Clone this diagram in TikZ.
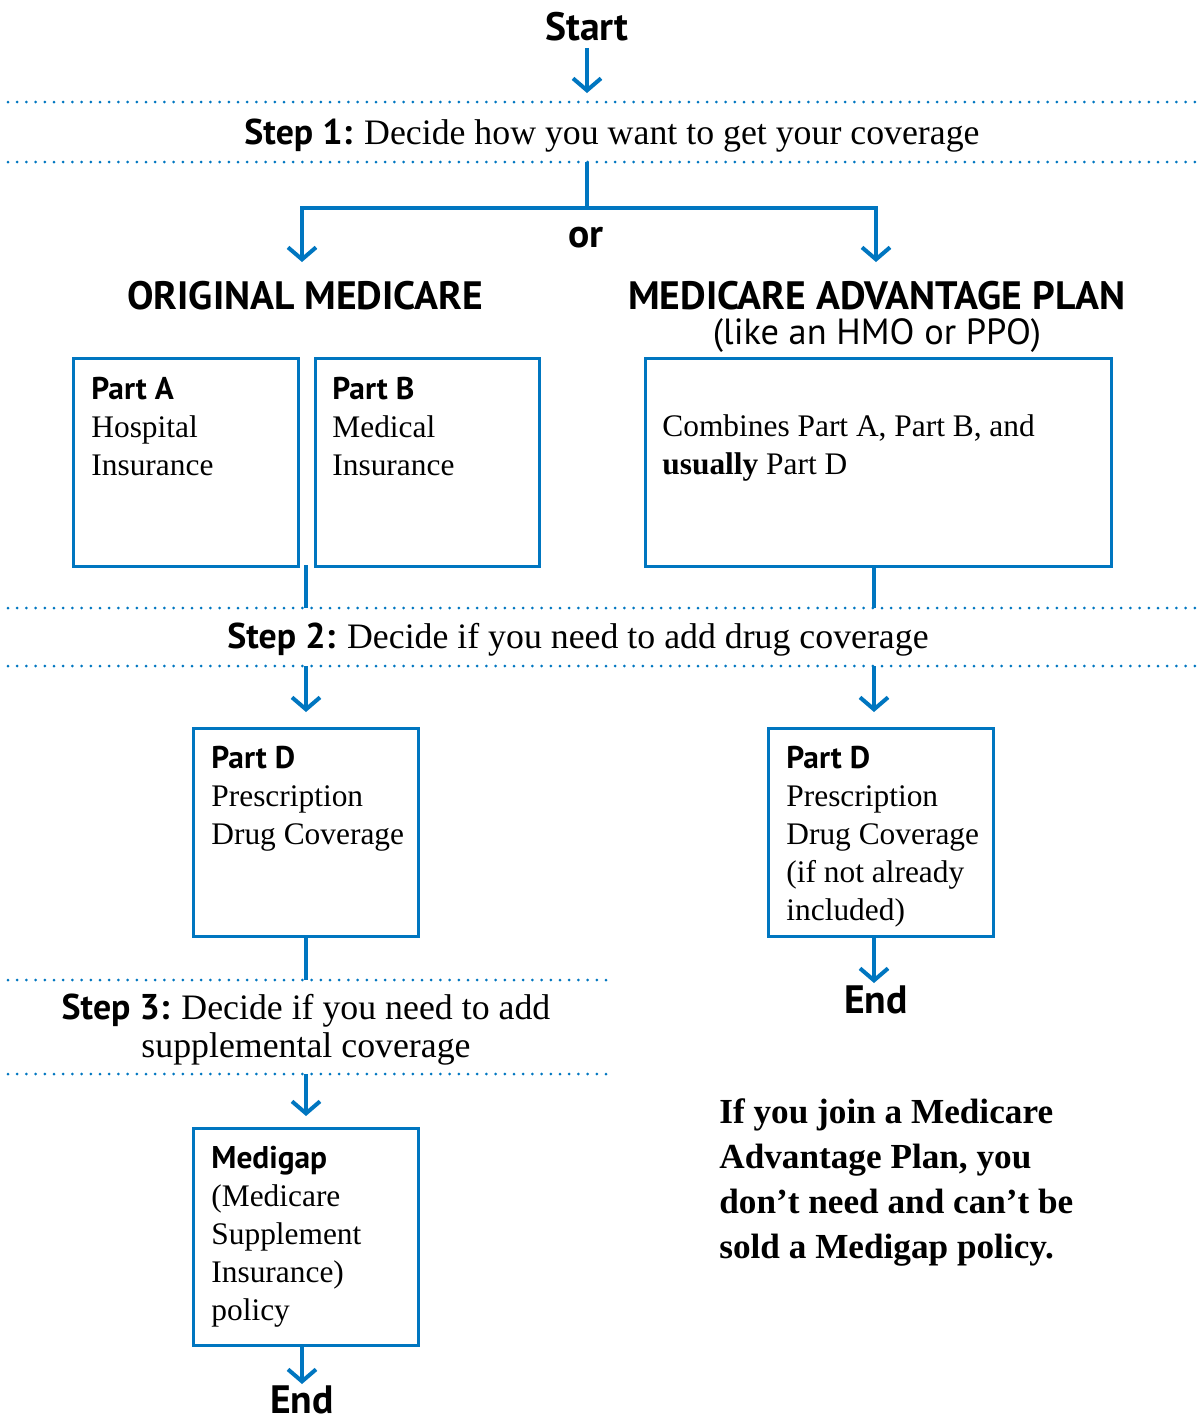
\documentclass[tikz,border=0pt]{standalone}
\usepackage{fontspec}
\setmainfont{Liberation Serif}
\setsansfont{PT Sans}
\usetikzlibrary{arrows.meta, positioning}
\definecolor{cmsblue}{RGB}{0,118,192}
\newcommand{\hd}[1]{{\sffamily\bfseries #1}}

\tikzset{
  flow/.style={cmsblue, line width=2pt},
  flowarrow/.style={flow, -{Straight Barb[length=6pt, width=14pt, line width=2pt]}},
  stepline/.style={cmsblue, line width=1.5pt, line cap=round, dash pattern=on 0pt off 4.6pt},
  partbox/.style={draw=cmsblue, line width=1.5pt, inner sep=0pt, anchor=north west},
  boxtext/.style={anchor=north west, align=left, inner sep=0pt, font=\fontsize{15.7}{19}\selectfont},
  steptext/.style={align=center, inner sep=0pt, font=\fontsize{17.9}{19}\selectfont},
  heading/.style={inner sep=0pt, font=\sffamily\bfseries\fontsize{19.8}{20}\selectfont},
}

\begin{document}
\begin{tikzpicture}[x=0.5pt, y=-0.5pt]
	\useasboundingbox (0,0) rectangle (1204,1426);
	% step 1
	\node[heading] (start) at (587,27) {Start};
	\coordinate (startend) at (587,93);
	\draw[flowarrow] ([yshift=-3pt]start.south) -- (startend);
	\draw[stepline] (8,102) -- (1200,102);
	\node[steptext] (step1) at (612,136) {\hd{Step 1:} Decide how you want to get your coverage};
	\draw[stepline] (8,162) -- (1200,162);
	\coordinate (s1out) at (587,162);
	\coordinate (fork) at (587,208);
	\coordinate (origin) at (302,262);
	\coordinate (advin) at (876,262);
	\draw[flow] (s1out) -- (fork);
	\draw[flowarrow] (fork) -| (origin);
	\draw[flowarrow] (fork) -| (advin);
	\node[heading] (or) at (586,238) {or};
	% the two ways
	\node[heading] (orig) at (305,296) {ORIGINAL MEDICARE};
	\node[heading] (adv) at (877,296) {MEDICARE ADVANTAGE PLAN};
	\node[inner sep=0pt, font=\sffamily\fontsize{18.2}{19}\selectfont] (like) at (877,336) {(like an HMO or PPO)};
	\node[partbox, minimum width=112.5pt, minimum height=104pt] (partA) at (72,357) {};
	\node[partbox, minimum width=112pt, minimum height=104pt] (partB) at (314,357) {};
	\node[partbox, minimum width=233pt, minimum height=104pt] (advbox) at (644,357) {};
	\node[boxtext] (partAtext) at (91,377) {\hd{Part A}\\Hospital\\Insurance};
	\node[boxtext] (partBtext) at (332,377) {\hd{Part B}\\Medical\\Insurance};
	\node[boxtext] (advtext) at (662,414) {Combines Part A, Part B, and\\\textbf{usually} Part D};
	% step 2
	\coordinate (abjoin) at (306,565);
	\coordinate (advout) at (874,565);
	\coordinate (s2left) at (306,608);
	\coordinate (s2right) at (874,608);
	\draw[flow] (abjoin) -- (s2left);
	\draw[flow] (advout) -- (s2right);
	\draw[stepline] (8,608) -- (1200,608);
	\node[steptext] (step2) at (578,640) {\hd{Step 2:} Decide if you need to add drug coverage};
	\draw[stepline] (8,666) -- (1200,666);
	\coordinate (s2lout) at (306,666);
	\coordinate (s2rout) at (874,666);
	\coordinate (dlin) at (306,712);
	\coordinate (drin) at (874,712);
	\draw[flowarrow] (s2lout) -- (dlin);
	\draw[flowarrow] (s2rout) -- (drin);
	\node[partbox, minimum width=112.5pt, minimum height=104pt] (partDl) at (192,727) {};
	\node[partbox, minimum width=112.5pt, minimum height=104pt] (partDr) at (767,727) {};
	\node[boxtext] (partDltext) at (211,746) {\hd{Part D}\\Prescription\\Drug Coverage};
	\node[boxtext] (partDrtext) at (786,746) {\hd{Part D}\\Prescription\\Drug Coverage\\(if not already\\included)};
	% right side ends
	\node[heading] (endr) at (876,1000) {End};
	\coordinate (drout) at (874,935);
	\coordinate (drend) at (874,983);
	\draw[flowarrow] (drout) -- (drend);
	% step 3
	\coordinate (s3in) at (306,980);
	\draw[flow] (partDl.south) -- (s3in);
	\draw[stepline] (8,980) -- (610,980);
	\node[steptext] (step3) at (306,1030) {\hd{Step 3:} Decide if you need to add\\supplemental coverage};
	\draw[stepline] (8,1074) -- (610,1074);
	\coordinate (s3out) at (306,1074);
	\coordinate (medin) at (306,1116);
	\draw[flowarrow] (s3out) -- (medin);
	\node[partbox, minimum width=112.5pt, minimum height=108.5pt] (medigap) at (192,1127) {};
	\node[boxtext] (medigaptext) at (211,1146) {\hd{Medigap}\\(Medicare\\Supplement\\Insurance)\\policy};
	\node[heading] (endl) at (302,1400) {End};
	\coordinate (medout) at (302,1344);
	\coordinate (medend) at (302,1384);
	\draw[flowarrow] (medout) -- (medend);
	% note
	\node[anchor=north west, align=left, inner sep=0pt, font=\bfseries\fontsize{17.6}{22.5}\selectfont] (note) at (719,1098)
		{If you join a Medicare\\Advantage Plan, you\\don’t need and can’t be\\sold a Medigap policy.};
\end{tikzpicture}
\end{document}
